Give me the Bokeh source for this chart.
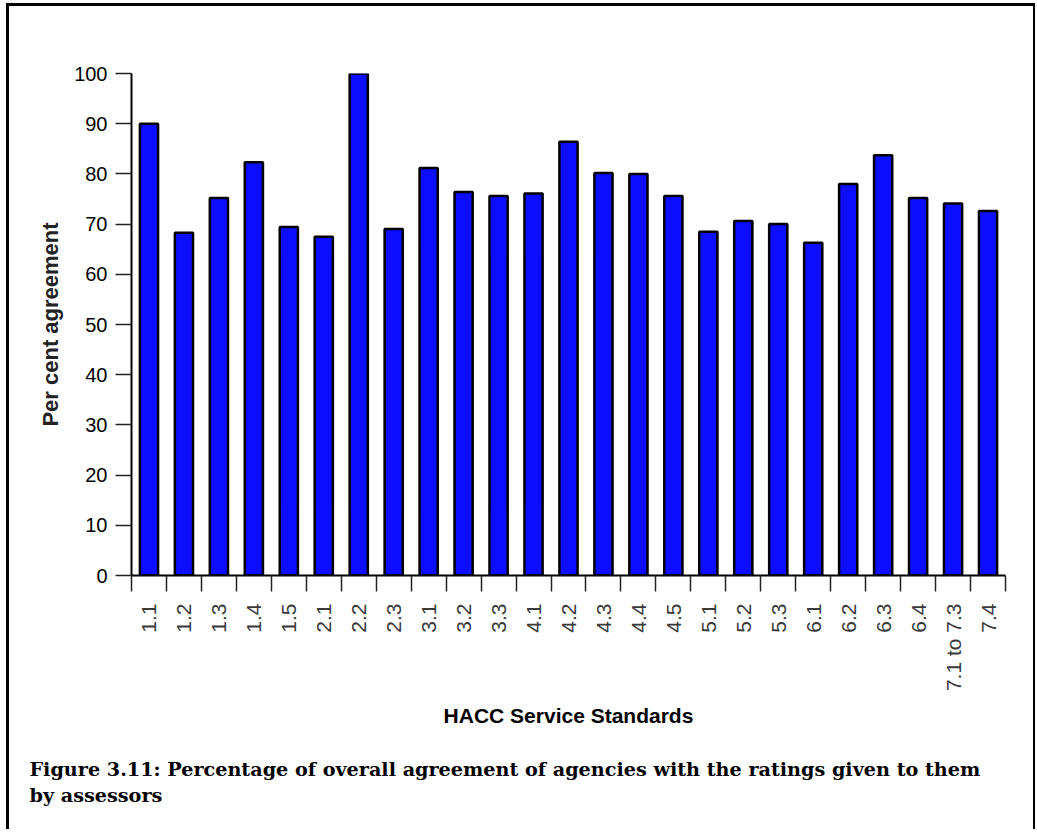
import math

from bokeh.plotting import figure
from bokeh.models import Range1d, FixedTicker, Title
from bokeh.embed import file_html
from bokeh.resources import INLINE

# HACC service standards and the share of agencies agreeing with their ratings
standards = ["1.1", "1.2", "1.3", "1.4", "1.5", "2.1", "2.2", "2.3", "3.1", "3.2",
             "3.3", "4.1", "4.2", "4.3", "4.4", "4.5", "5.1", "5.2", "5.3", "6.1",
             "6.2", "6.3", "6.4", "7.1 to 7.3", "7.4"]
agreement = [90.0, 68.3, 75.2, 82.3, 69.4, 67.5, 100.0, 69.0, 81.2, 76.4,
             75.6, 76.1, 86.4, 80.2, 80.0, 75.6, 68.5, 70.6, 70.0, 66.3,
             78.0, 83.7, 75.2, 74.1, 72.6]
y_ticks = [0, 10, 20, 30, 40, 50, 60, 70, 80, 90, 100]

caption = ("Figure 3.11: Percentage of overall agreement of agencies with the ratings given to them\n"
           "by assessors")

# canvas inside a page frame (left/top/right rules drawn as CSS borders)
W, H = 1029, 826
LEFT, RIGHT, TOP, BOTTOM = 122, 996, 67, 571   # plot frame edges on the canvas

n = len(standards)
centers = [i + 0.5 for i in range(n)]
edges = list(range(n + 1))

p = figure(width=W, height=H, output_backend="svg", toolbar_location=None,
           x_range=Range1d(0, n), y_range=Range1d(0, 100),
           min_border_left=LEFT, min_border_right=W - RIGHT,
           min_border_top=TOP, min_border_bottom=H - BOTTOM,
           background_fill_color="white",
           border_fill_color="white", border_fill_alpha=0,
           styles={"margin-left": "6px", "margin-top": "3px",
                   "border-left": "3px solid black",
                   "border-top": "3px solid black",
                   "border-right": "2px solid black"})
p.outline_line_color = None
p.xgrid.visible = False
p.ygrid.visible = False

p.vbar(x=centers, top=agreement, bottom=0, width=0.52,
       fill_color="#0d0dff", line_color="black", line_width=2.5)

# x axis: tick marks between categories, labels under each bar
xa = p.xaxis[0]
xa.ticker = FixedTicker(ticks=centers, minor_ticks=edges)
xa.major_label_overrides = {c: s for c, s in zip(centers, standards)}
xa.major_label_orientation = math.pi / 2
xa.major_tick_out = 0
xa.major_tick_in = 0
xa.minor_tick_out = 16
xa.minor_tick_in = 0
xa.minor_tick_line_color = "#222222"
xa.minor_tick_line_width = 1.5
xa.major_label_standoff = 12
xa.major_label_text_font = "Liberation Sans"
xa.major_label_text_font_size = "21px"
xa.major_label_text_color = "#3a3a3a"
xa.axis_line_width = 2
xa.axis_line_color = "black"
xa.axis_label = "HACC Service Standards"
xa.axis_label_text_font = "Liberation Sans"
xa.axis_label_text_font_style = "bold"
xa.axis_label_text_font_size = "21px"
xa.axis_label_text_color = "black"
xa.axis_label_standoff = 10

ya = p.yaxis[0]
ya.ticker = FixedTicker(ticks=y_ticks)
ya.major_tick_out = 16
ya.major_tick_in = 0
ya.major_tick_line_color = "#222222"
ya.major_tick_line_width = 1.5
ya.minor_tick_out = 0
ya.minor_tick_in = 0
ya.major_label_standoff = 8
ya.major_label_text_font = "Liberation Sans"
ya.major_label_text_font_size = "20px"
ya.major_label_text_color = "black"
ya.axis_line_width = 2
ya.axis_line_color = "black"
ya.axis_label = "Per cent agreement"
ya.axis_label_text_font = "Liberation Sans"
ya.axis_label_text_font_style = "bold"
ya.axis_label_text_font_size = "22px"
ya.axis_label_text_color = "#222222"
ya.axis_label_standoff = 8

# two-line figure caption under the axis title
p.add_layout(Title(text=caption, align="left", offset=20 - LEFT, standoff=51,
                   text_font="DejaVu Serif", text_font_style="bold",
                   text_font_size="19.2px", text_line_height=1.15,
                   text_color="black"), "below")

open("out.html", "w").write(file_html(p, INLINE))
